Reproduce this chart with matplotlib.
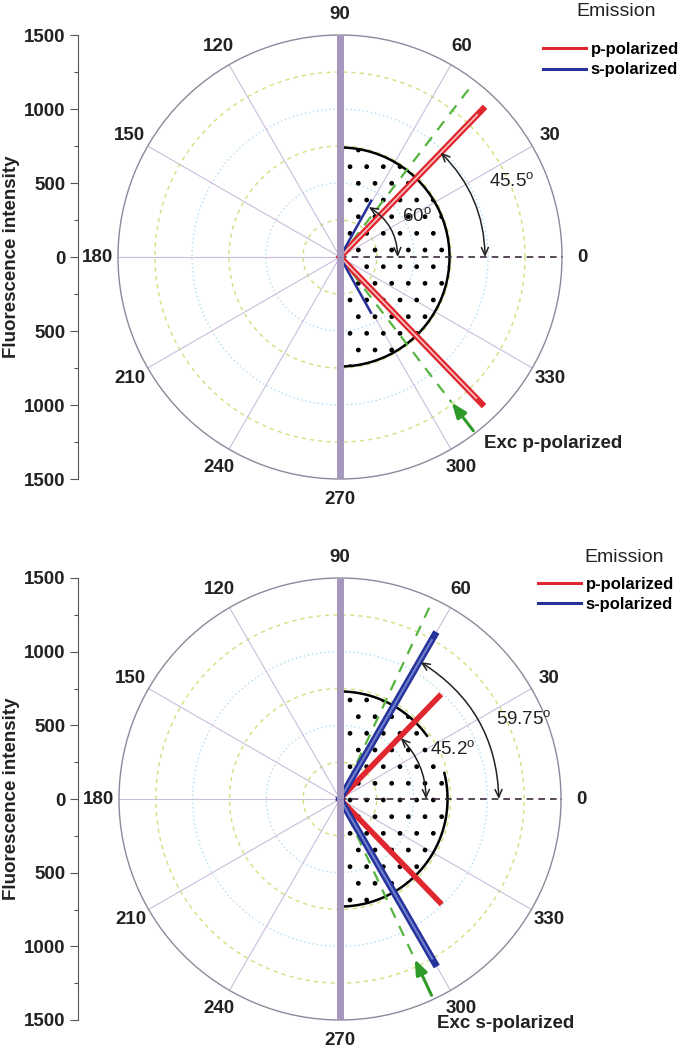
import numpy as np
import matplotlib
matplotlib.use("Agg")
import matplotlib.pyplot as plt
from matplotlib.lines import Line2D

plt.rcParams["font.family"] = ["Liberation Sans", "DejaVu Sans"]
plt.rcParams["mathtext.fontset"] = "custom"
plt.rcParams["mathtext.rm"] = "Liberation Sans"

W, H = 685, 1050

# --- values ---
theta_labels = [0, 30, 60, 90, 120, 150, 180, 210, 240, 270, 300, 330]
spoke_angles = [30, 60, 120, 150, 180, 210, 240, 300, 330]
ring_green = [250, 750, 1250]
ring_blue = [500, 1000]
r_max = 1500
y_major = [-1500, -1000, -500, 0, 500, 1000, 1500]
y_minor = [-1250, -750, -250, 250, 750, 1250]

# top panel: excitation p-polarized
top_p_angle = [46, -46]
top_p_r = [1390, 1380]
top_s_angle = [61, -61]
top_s_r = [435, 430]
top_exc_angle = 52.5
top_exc_r = [1480, 1240]
top_semi_r = 740
top_arc_angle = [60, 46]
top_arc_text = ["60", "45.5"]

# bottom panel: excitation s-polarized
bot_p_angle = [46, -46]
bot_p_r = [970, 975]
bot_s_angle = [60, -60]
bot_s_r = [1285, 1290]
bot_exc_angle = 65
bot_exc_r = [1470, 1200]
bot_semi_r = 730
bot_arc_angle = [45, 59.5]
bot_arc_text = ["45.2", "59.75"]

RED = "#e0262e"
BLUE = "#26329a"
GREEN = "#55b440"
GREEN_ARROW = "#2f9a2a"
GRID_C = "#8a8a9c"

fig = plt.figure(figsize=(W / 100, H / 100), dpi=100)


def px_rect(cx, cy, r):
    return [(cx - r) / W, 1 - (cy + r) / H, 2 * r / W, 2 * r / H]


def draw_panel(cx, cy, rad, p_ang, p_r, s_ang, s_r, exc_ang, exc_r, semi_r,
               arc_ang, arc_text, lay):
    ax = fig.add_axes(px_rect(cx, cy, rad), projection="polar")
    ax.set_ylim(0, r_max)
    ax.set_yticks([])
    ax.grid(False)
    ax.spines["polar"].set_color(GRID_C)
    ax.spines["polar"].set_linewidth(1.0)
    ax.set_xticks(np.radians(theta_labels))
    ax.set_xticklabels([str(a) for a in theta_labels], fontsize=13.5,
                       fontweight="bold", color="#222222")
    ax.set_xticks(np.radians(np.arange(15, 360, 30)), minor=True)
    ax.tick_params(axis="x", which="major", direction="in", length=5,
                   width=0.8, color=GRID_C, pad=8)
    ax.tick_params(axis="x", which="minor", direction="in", length=4,
                   width=0.8, color=GRID_C)

    full = np.linspace(0, 2 * np.pi, 400)
    for r in ring_green:
        ax.plot(full, np.full_like(full, r), color="#cfe27e", lw=1,
                ls=(0, (3, 3)), zorder=1)
    for r in ring_blue:
        ax.plot(full, np.full_like(full, r), color="#b0dcf4", lw=1,
                ls=(0, (1, 2)), zorder=1)
    for a in spoke_angles:
        ax.plot([np.radians(a)] * 2, [0, r_max], color="#cbbcda", lw=0.8,
                zorder=1)

    # dotted half disc
    ax.bar(0, semi_r, width=np.pi, bottom=0, facecolor="none",
           edgecolor="black", hatch=".", linewidth=0, zorder=2)
    for a0, a1 in lay["semi_arcs"]:
        t = np.radians(np.linspace(a0, a1, 200))
        ax.plot(t, np.full_like(t, semi_r), color="black", lw=1.8, zorder=3)

    # 0 deg dashed axis
    ax.plot([0, 0], [0, r_max], color="#3c2a3c", lw=1.2, ls=(0, (4, 3)),
            zorder=4)

    # excitation
    te = np.radians(exc_ang)
    ax.plot([te, te], [0, exc_r[0]], color=GREEN, lw=1.6, ls=(0, (5, 4)),
            zorder=4)
    ax.plot([-te, -te], [0, exc_r[1]], color=GREEN, lw=1.6, ls=(0, (5, 4)),
            zorder=4)
    ax.annotate("", xy=(-te, exc_r[1]), xytext=(-te, exc_r[0]),
                arrowprops=dict(arrowstyle="-|>,head_length=0.9,head_width=0.35",
                                color=GREEN_ARROW, lw=2.2, shrinkA=0, shrinkB=0),
                zorder=6)

    # emission lobes
    for a, r in zip(p_ang, p_r):
        t = np.radians(a)
        ax.plot([t, t], [0, r], color=RED, lw=lay["p_lw"], zorder=5)
        if lay["p_inner"]:
            ax.plot([t, t], [0, r * 0.96], color="#f6c6c6", lw=lay["p_inner"],
                    zorder=5)
    for a, r in zip(s_ang, s_r):
        t = np.radians(a)
        ax.plot([t, t], [0, r], color=BLUE, lw=lay["s_lw"], zorder=5)
        if lay["s_inner"]:
            ax.plot([t, t], [0, r * 0.97], color="#6f7fd0", lw=lay["s_inner"],
                    zorder=5)

    # vertical purple bar
    for a in (90, 270):
        ax.plot([np.radians(a)] * 2, [0, r_max], color="#a597bd", lw=5,
                solid_capstyle="butt", zorder=7)

    # angle arrows
    for a, r in zip(arc_ang, lay["arc_r"]):
        ax.annotate("", xy=(np.radians(a), r), xytext=(0, r),
                    arrowprops=dict(arrowstyle="<->,head_length=0.55,head_width=0.25",
                                    color="#222222", lw=1.1, shrinkA=0, shrinkB=0,
                                    connectionstyle="arc3,rad=%.3f"
                                    % np.tan(np.radians(a) / 4)),
                    zorder=8)
    for txt, (a, r) in zip(arc_text, lay["arc_text_pos"]):
        ax.text(np.radians(a), r, txt + r"$^{\mathrm{o}}$", fontsize=13.5,
                ha="center", va="center", color="#222222", zorder=8)

    a, r = lay["exc_text_pos"]
    ax.text(np.radians(a), r, lay["exc_text"], fontsize=13.5, fontweight="bold",
            ha="left", va="center", color="#222222", clip_on=False, zorder=8)

    # left intensity axis
    ay = fig.add_axes([78 / W, 1 - (cy + rad) / H, 0.0001, 2 * rad / H])
    ay.patch.set_visible(False)
    for s in ("top", "right", "bottom"):
        ay.spines[s].set_visible(False)
    ay.spines["left"].set_color("#555555")
    ay.set_xticks([])
    ay.set_ylim(-r_max, r_max)
    ay.set_yticks(y_major)
    ay.set_yticklabels([str(abs(v)) for v in y_major], fontsize=13.5,
                       fontweight="bold", color="#222222")
    ay.set_yticks(y_minor, minor=True)
    ay.tick_params(axis="y", which="major", length=6, width=0.8,
                   color="#555555", pad=3)
    ay.tick_params(axis="y", which="minor", length=3, width=0.8,
                   color="#555555")
    fig.text(12 / W, 1 - cy / H, "Fluorescence intensity", rotation=90,
             fontsize=13.5, fontweight="bold", ha="center", va="center",
             color="#222222")

    # legend
    tx, ty = lay["legend_title_xy"]
    fig.text(tx / W, 1 - ty / H, "Emission", fontsize=14, ha="center",
             va="center", color="#222222")
    handles = [Line2D([], [], color=RED, lw=2.2), Line2D([], [], color=BLUE, lw=2.2)]
    fig.legend(handles, ["p-polarized", "s-polarized"],
               loc="upper left", bbox_to_anchor=lay["legend_xy"],
               frameon=False, prop={"weight": "bold", "size": 12},
               handlelength=2.6, handletextpad=0.25, labelspacing=0.32,
               borderpad=0, borderaxespad=0)


draw_panel(340, 257, 222, top_p_angle, top_p_r, top_s_angle, top_s_r,
           top_exc_angle, top_exc_r, top_semi_r, top_arc_angle, top_arc_text,
           dict(semi_arcs=[(90, -90)], p_lw=4.5, p_inner=1.2, s_lw=1.8,
                s_inner=0, arc_r=[390, 980],
                arc_text_pos=[(28, 585), (23.6, 1268)],
                exc_text="Exc p-polarized", exc_text_pos=(-52.4, 1590),
                legend_title_xy=(616, 12),
                legend_xy=(543 / W, 1 - 42 / H)))

draw_panel(340, 799, 221, bot_p_angle, bot_p_r, bot_s_angle, bot_s_r,
           bot_exc_angle, bot_exc_r, bot_semi_r, bot_arc_angle, bot_arc_text,
           dict(semi_arcs=[(90, 36), (14, -90)], p_lw=4, p_inner=0, s_lw=5,
                s_inner=1.5, arc_r=[584, 1078],
                arc_text_pos=[(23.4, 835), (23.2, 1360)],
                exc_text="Exc s-polarized", exc_text_pos=(-66.6, 1662),
                legend_title_xy=(624, 558),
                legend_xy=(538 / W, 1 - 577 / H)))

fig.savefig("out.png", dpi=100)
